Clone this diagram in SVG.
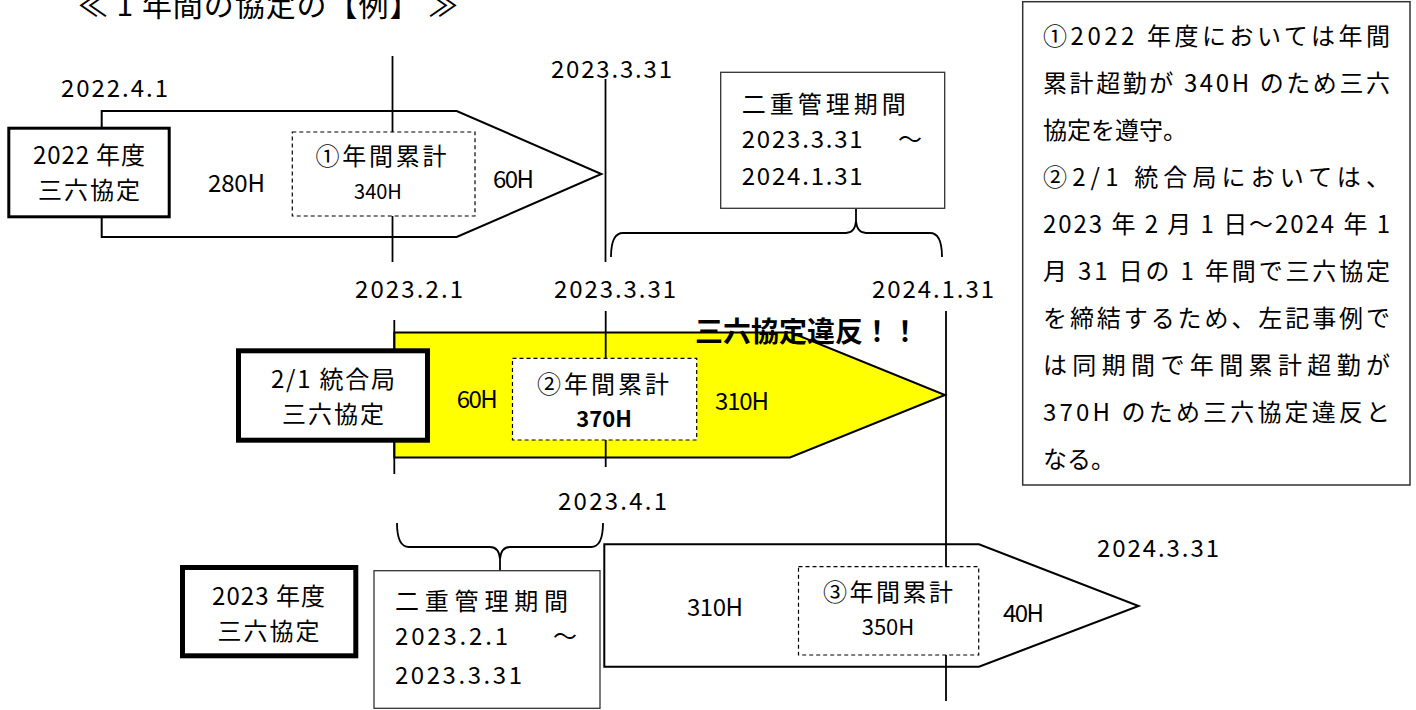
<svg xmlns="http://www.w3.org/2000/svg" width="1416" height="710" viewBox="0 0 1416 710">
<style>
text{font-family:"Noto Sans CJK JP","Noto Sans",sans-serif;fill:#000}
.t{font-size:24px}
.d{font-size:24px}
.m{text-anchor:middle}
.b{font-weight:bold}
.r{font-size:24px}
.arrow{stroke:#000;stroke-width:2;stroke-linejoin:miter}
.thick{fill:#fff;stroke:#000}
.thin{fill:#fff;stroke:#333;stroke-width:1.3}
.dash{fill:#fff;stroke:#000;stroke-width:1.2;stroke-dasharray:4 3}
.ln{stroke:#000;stroke-width:1.8;fill:none}
.br{stroke:#000;stroke-width:1.8;fill:none}
</style>
<rect x="0" y="0" width="1416" height="710" fill="#fff"/>
<g id="title"><text x="78" y="16" style="font-size:30px" textLength="380" lengthAdjust="spacing">≪ 1 年間の協定の【例】 ≫</text></g>

<g id="arrow-2022"><path class="arrow" fill="#fff" d="M101.7,111 L456.7,111 L601.4,174 L456.7,237 L101.7,237 Z"/></g>
<g id="arrow-togo"><path class="arrow" fill="#FFFF00" d="M394.3,332.5 L791,332.5 L945,395 L790,457.5 L394.3,457.5 Z"/></g>
<g id="arrow-2023"><path class="arrow" fill="#fff" d="M604.3,544.3 L979,544.3 L1138.6,606 L979,666.7 L604.3,666.7 Z"/></g>

<g id="connectors">
<line class="ln" x1="392.5" y1="56" x2="392.5" y2="262"/>
<line class="ln" x1="605.5" y1="79" x2="605.5" y2="262"/>
<line class="ln" x1="394.3" y1="320" x2="394.3" y2="474"/>
<line class="ln" x1="605.7" y1="311" x2="605.7" y2="467"/>
<line class="ln" x1="946" y1="311" x2="946" y2="701"/>
<path class="br" d="M611,257 Q611,233 623,233 L846,233 Q855,233 856,221 L856,208.3 M856,221 Q857,233 866,233 L930,233 Q942,233 942,257"/>
<path class="br" d="M397,523 Q397,547 409,547 L490,547 Q499,547 500,559 L500,570.7 M500,559 Q501,547 510,547 L591,547 Q603,547 603,523"/>
</g>

<g id="box-2022">
<rect class="thick" x="8.8" y="128.2" width="160.4" height="88.6" stroke-width="3"/>
<text class="t m" x="89" y="163.5" textLength="112" lengthAdjust="spacing">2022 年度</text>
<text class="t m" x="89" y="198.5" textLength="102" lengthAdjust="spacing">三六協定</text>
</g>
<g id="box-togo">
<rect class="thick" x="238.5" y="350.8" width="189" height="89.4" stroke-width="5"/>
<text class="t m" x="333" y="387.5" textLength="124" lengthAdjust="spacing">2/1 統合局</text>
<text class="t m" x="333" y="422.5" textLength="102" lengthAdjust="spacing">三六協定</text>
</g>
<g id="box-2023">
<rect class="thick" x="182.5" y="567.5" width="173.3" height="88.3" stroke-width="5"/>
<text class="t m" x="268.5" y="605" textLength="113" lengthAdjust="spacing">2023 年度</text>
<text class="t m" x="268.5" y="640" textLength="102" lengthAdjust="spacing">三六協定</text>
</g>

<g id="sum1">
<rect class="dash" x="292.3" y="132" width="182.7" height="84"/>
<text class="t m" x="381" y="165" textLength="131" lengthAdjust="spacing">①年間累計</text>
<text class="m" x="378" y="199" style="font-size:20px">340H</text>
</g>
<g id="sum2">
<rect class="dash" x="512.5" y="358.3" width="184.2" height="81.7"/>
<text class="t m" x="603" y="393" textLength="132" lengthAdjust="spacing">②年間累計</text>
<text class="m b" x="604" y="427" style="font-size:22px">370H</text>
</g>
<g id="sum3">
<rect class="dash" x="798.5" y="566.7" width="180.2" height="88.3"/>
<text class="t m" x="888" y="601" textLength="130" lengthAdjust="spacing">③年間累計</text>
<text class="m" x="888" y="635" style="font-size:22px">350H</text>
</g>

<g id="dual-top">
<rect class="thin" x="720.7" y="72.3" width="224" height="136"/>
<text class="t" x="741.7" y="113" textLength="164" lengthAdjust="spacing">二重管理期間</text>
<text class="d" x="741.7" y="148" textLength="121" lengthAdjust="spacing">2023.3.31</text>
<text class="t" x="898" y="148">～</text>
<text class="d" x="741.7" y="185" textLength="121" lengthAdjust="spacing">2024.1.31</text>
</g>
<g id="dual-bottom">
<rect class="thin" x="374" y="570.7" width="226" height="137.6"/>
<text class="t" x="395" y="609.5" textLength="173" lengthAdjust="spacing">二重管理期間</text>
<text class="d" x="395" y="645" textLength="113" lengthAdjust="spacing">2023.2.1</text>
<text class="t" x="553" y="645">～</text>
<text class="d" x="395" y="684" textLength="127" lengthAdjust="spacing">2023.3.31</text>
</g>

<g id="labels">
<text class="d" x="61" y="97" textLength="107" lengthAdjust="spacing">2022.4.1</text>
<text class="d" x="551" y="78" textLength="121" lengthAdjust="spacing">2023.3.31</text>
<text class="t" x="208" y="192" textLength="57" lengthAdjust="spacing">280H</text>
<text class="t" x="493" y="188" textLength="41" lengthAdjust="spacing">60H</text>
<text class="d" x="355" y="298" textLength="108" lengthAdjust="spacing">2023.2.1</text>
<text class="d" x="554" y="298" textLength="122" lengthAdjust="spacing">2023.3.31</text>
<text class="d" x="872" y="298" textLength="122" lengthAdjust="spacing">2024.1.31</text>
<text class="t" x="456.7" y="408" textLength="41" lengthAdjust="spacing">60H</text>
<text class="t" x="715" y="410" textLength="54" lengthAdjust="spacing">310H</text>
<text class="b" x="695" y="342" style="font-size:28px" textLength="224" lengthAdjust="spacing">三六協定違反！！</text>
<text class="d" x="558" y="510" textLength="109" lengthAdjust="spacing">2023.4.1</text>
<text class="d" x="1097" y="556.7" textLength="122" lengthAdjust="spacing">2024.3.31</text>
<text class="t" x="687" y="616" textLength="56" lengthAdjust="spacing">310H</text>
<text class="t" x="1003" y="621.7" textLength="41" lengthAdjust="spacing">40H</text>
</g>

<g id="note">
<rect x="1022.7" y="1.7" width="387.3" height="483.3" fill="#fff" stroke="#333" stroke-width="1.5"/>
<text class="r" x="1043" y="44.5" textLength="347" lengthAdjust="spacing">①2022 年度においては年間</text>
<text class="r" x="1043" y="91.5" textLength="347" lengthAdjust="spacing">累計超勤が 340H のため三六</text>
<text class="r" x="1043" y="138.5">協定を遵守。</text>
<text class="r" x="1043" y="185.5" textLength="347" lengthAdjust="spacing">②2/1 統合局においては、</text>
<text class="r" x="1043" y="232.5" textLength="347" lengthAdjust="spacing">2023 年 2 月 1 日～2024 年 1</text>
<text class="r" x="1043" y="279.5" textLength="347" lengthAdjust="spacing">月 31 日の 1 年間で三六協定</text>
<text class="r" x="1043" y="326.5" textLength="347" lengthAdjust="spacing">を締結するため、左記事例で</text>
<text class="r" x="1043" y="373.5" textLength="347" lengthAdjust="spacing">は同期間で年間累計超勤が</text>
<text class="r" x="1043" y="420.5" textLength="347" lengthAdjust="spacing">370H のため三六協定違反と</text>
<text class="r" x="1043" y="467.5">なる。</text>
</g>
</svg>
